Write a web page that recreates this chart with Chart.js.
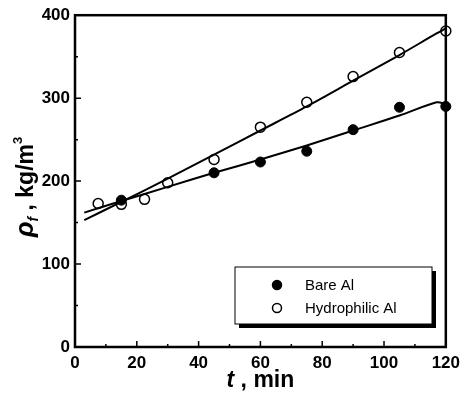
<!DOCTYPE html>
<html>
<head>
<meta charset="utf-8">
<script src="https://cdn.jsdelivr.net/npm/chart.js@4/dist/chart.umd.min.js"></script>
<style>
    html, body { margin: 0; padding: 0; background: #fff; }
    #wrap { width: 466px; height: 393px; position: relative; }
</style>
</head>
<body>
<div id="wrap"><canvas id="chart" width="466" height="393"></canvas></div>
<script>
// measured points
const tHydro = [7.5, 15, 22.5, 30, 45, 60, 75, 90, 105, 120];
const rhoHydro = [173, 172, 178, 198, 226, 265, 295, 326, 355, 381];
const tBare = [15, 45, 60, 75, 90, 105, 120];
const rhoBare = [177, 210, 223, 236, 262, 289, 290];

// fitted curves
const tFit = [3, 15, 30, 45, 60, 75, 90, 105, 117, 120];
const fitHydro = [153, 175, 203, 232, 261, 290, 321, 352, 378, 384];
const fitBare = [162, 176, 193, 210, 226, 243, 261, 279, 295, 293];

const xTicks = [0, 20, 40, 60, 80, 100, 120];
const xMinor = [10, 30, 50, 70, 90, 110];
const yTicks = [0, 100, 200, 300, 400];
const yMinor = [50, 150, 250, 350];

const legendLabels = ['Bare Al', 'Hydrophilic Al'];

const pts = (xs, ys) => xs.map((x, i) => ({ x: x, y: ys[i] }));

// inner ticks, frame, legend box and axis titles
const decorPlugin = {
    id: 'decor',
    afterDraw(chart) {
        const ctx = chart.ctx;
        const a = chart.chartArea;
        const xs = chart.scales.x;
        const ys = chart.scales.y;
        ctx.save();
        ctx.strokeStyle = '#000';
        ctx.lineWidth = 1.5;
        ctx.beginPath();
        xTicks.forEach(v => {
            const px = xs.getPixelForValue(v);
            ctx.moveTo(px, a.bottom); ctx.lineTo(px, a.bottom - 6);
        });
        xMinor.forEach(v => {
            const px = xs.getPixelForValue(v);
            ctx.moveTo(px, a.bottom); ctx.lineTo(px, a.bottom - 3);
        });
        yTicks.forEach(v => {
            const py = ys.getPixelForValue(v);
            ctx.moveTo(a.left, py); ctx.lineTo(a.left + 6, py);
        });
        yMinor.forEach(v => {
            const py = ys.getPixelForValue(v);
            ctx.moveTo(a.left, py); ctx.lineTo(a.left + 3, py);
        });
        ctx.stroke();

        // frame
        ctx.lineWidth = 2.5;
        ctx.strokeRect(a.left, a.top, a.right - a.left, a.bottom - a.top);

        // legend with drop shadow
        const lx = 235, ly = 267, lw = 197, lh = 57;
        ctx.fillStyle = '#000';
        ctx.fillRect(lx + 4, ly + 4, lw, lh);
        ctx.fillStyle = '#fff';
        ctx.fillRect(lx, ly, lw, lh);
        ctx.lineWidth = 1;
        ctx.strokeRect(lx, ly, lw, lh);
        ctx.font = '15px "Liberation Sans", Arial, sans-serif';
        ctx.textBaseline = 'middle';
        legendLabels.forEach((lab, i) => {
            const cy = ly + 18 + i * 23;
            ctx.beginPath();
            ctx.arc(lx + 42, cy, 4.5, 0, Math.PI * 2);
            ctx.fillStyle = i === 0 ? '#000' : '#fff';
            ctx.fill();
            ctx.lineWidth = 1.5;
            ctx.stroke();
            ctx.fillStyle = '#000';
            ctx.fillText(lab, lx + 70, cy + 1);
        });

        // x title: t , min
        const bold = 'bold 23px "Liberation Sans", Arial, sans-serif';
        const boldIt = 'italic bold 23px "Liberation Sans", Arial, sans-serif';
        ctx.textBaseline = 'alphabetic';
        ctx.font = boldIt;
        const w1 = ctx.measureText('t').width;
        ctx.font = bold;
        const w2 = ctx.measureText(' , min').width;
        let x0 = (a.left + a.right) / 2 - (w1 + w2) / 2;
        ctx.font = boldIt;
        ctx.fillText('t', x0, 387);
        ctx.font = bold;
        ctx.fillText(' , min', x0 + w1, 387);

        // y title: rho_f , kg/m^3
        ctx.translate(33, 187);
        ctx.rotate(-Math.PI / 2);
        const parts = [
            { t: '\u03c1', f: 'italic bold 26px "Liberation Sans", Arial, sans-serif', dy: 0 },
            { t: 'f', f: 'italic bold 14px "Liberation Sans", Arial, sans-serif', dy: 5 },
            { t: ' , kg/m', f: bold, dy: 0 },
            { t: '3', f: 'bold 13px "Liberation Sans", Arial, sans-serif', dy: -11 }
        ];
        let total = 0;
        parts.forEach(p => { ctx.font = p.f; p.w = ctx.measureText(p.t).width; total += p.w; });
        let cx = -total / 2;
        parts.forEach(p => {
            ctx.font = p.f;
            ctx.fillText(p.t, cx, p.dy);
            cx += p.w;
        });
        ctx.restore();
    }
};

new Chart(document.getElementById('chart'), {
    type: 'scatter',
    data: {
        datasets: [
            {
                label: 'Bare Al fit',
                data: pts(tFit, fitBare),
                showLine: true,
                borderColor: '#000',
                borderWidth: 2,
                pointRadius: 0,
                tension: 0.3
            },
            {
                label: 'Hydrophilic Al fit',
                data: pts(tFit, fitHydro),
                showLine: true,
                borderColor: '#000',
                borderWidth: 2,
                pointRadius: 0,
                tension: 0.3
            },
            {
                label: legendLabels[0],
                data: pts(tBare, rhoBare),
                clip: false,
                pointRadius: 5,
                pointBackgroundColor: '#000',
                pointBorderColor: '#000',
                pointBorderWidth: 1
            },
            {
                label: legendLabels[1],
                data: pts(tHydro, rhoHydro),
                clip: false,
                pointRadius: 5,
                pointBackgroundColor: '#fff',
                pointBorderColor: '#000',
                pointBorderWidth: 1.5
            }
        ]
    },
    options: {
        responsive: false,
        animation: false,
        layout: { padding: { top: 15, right: 13, left: 0, bottom: 0 } },
        plugins: { legend: { display: false }, tooltip: { enabled: false } },
        scales: {
            x: {
                type: 'linear',
                min: 0,
                max: 120,
                afterFit: s => { s.height = 46; },
                afterBuildTicks: s => { s.ticks = xTicks.map(v => ({ value: v })); },
                grid: { display: false, drawTicks: false },
                border: { display: false },
                ticks: {
                    color: '#000',
                    padding: 6,
                    maxRotation: 0,
                    font: { family: '"Liberation Sans", Arial, sans-serif', size: 17, weight: 'bold' }
                }
            },
            y: {
                type: 'linear',
                min: 0,
                max: 400,
                afterFit: s => { s.width = 75; },
                afterBuildTicks: s => { s.ticks = yTicks.map(v => ({ value: v })); },
                grid: { display: false, drawTicks: false },
                border: { display: false },
                ticks: {
                    color: '#000',
                    padding: 5,
                    font: { family: '"Liberation Sans", Arial, sans-serif', size: 17, weight: 'bold' }
                }
            }
        }
    },
    plugins: [decorPlugin]
});
</script>
</body>
</html>
